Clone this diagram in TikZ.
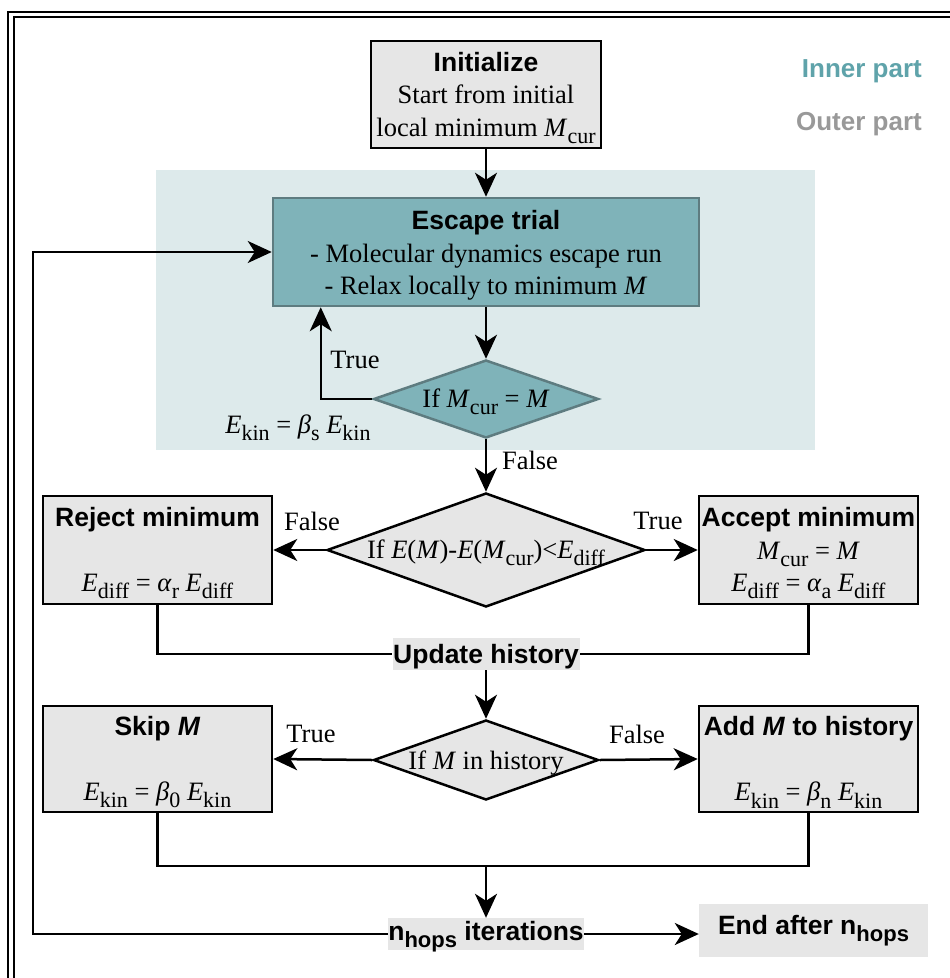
\documentclass[tikz,border=0pt]{standalone}
\usepackage{fontspec}
\setmainfont{Liberation Serif}
\setsansfont{Liberation Sans}
\usetikzlibrary{shapes.geometric,arrows.meta}

\definecolor{boxgray}{HTML}{E6E6E6}
\definecolor{tealfill}{HTML}{7FB3B9}
\definecolor{tealedge}{HTML}{5E7C80}
\definecolor{innerbg}{HTML}{DDEAEB}
\definecolor{innertext}{HTML}{5FA3AA}
\definecolor{outertext}{HTML}{999999}

% lowered, slightly smaller subscript text
\newcommand\sbs[1]{\raisebox{-0.27em}{\fontsize{22}{22}\selectfont #1}}
% bold sans heading
\newcommand\hd[1]{{\sffamily\bfseries #1}}
% taller first line, pushes the text block of a box down a little
\newcommand\firstline{\rule{0pt}{26pt}}
% single line text drawn a bit lower, keeping its box size
\newcommand\low[1]{\raisebox{-3pt}[\height][\depth]{#1}}

\begin{document}
\begin{tikzpicture}[x=1pt,y=-1pt,
  every node/.style={font=\fontsize{26.5}{32.5}\selectfont},
  box/.style={rectangle, draw=black, fill=boxgray, line width=2.5pt,
              inner sep=0pt, align=center},
  tealbox/.style={box, draw=tealedge, fill=tealfill},
  decision/.style={diamond, draw=black, fill=boxgray, line width=2.5pt,
              inner sep=0pt},
  tealdecision/.style={decision, draw=tealedge, fill=tealfill},
  plate/.style={rectangle, fill=boxgray, inner sep=0pt},
  link/.style={line width=2.5pt},
  arr/.style={link, -{Stealth[length=24pt,width=22pt,inset=7pt]}},
  lbl/.style={inner sep=0pt}]

\useasboundingbox (0,0) rectangle (950,978);
\clip (0,0) rectangle (950,978);

% double frame
\draw[line width=2.5pt] (8,1000) -- (8,12) -- (970,12);
\draw[line width=2.5pt] (14,1000) -- (14,17) -- (970,17);

% background of the inner loop
\fill[innerbg] (156,170) rectangle (815,450);

% legend
\node[lbl, anchor=east, text=innertext, font=\fontsize{26}{30}\selectfont\sffamily\bfseries] (leginner) at (922,71) {Inner part};
\node[lbl, anchor=east, text=outertext, font=\fontsize{26}{30}\selectfont\sffamily\bfseries] (legouter) at (922,124) {Outer part};

% boxes
\node[box, minimum width=230pt, minimum height=107pt] (init) at (486,94.5)
  {\firstline\hd{Initialize}\\Start from initial\\local minimum \textit{M}\sbs{cur}};
\node[tealbox, minimum width=426pt, minimum height=108pt] (escape) at (486,252)
  {\firstline\hd{Escape trial}\\- Molecular dynamics escape run\\- Relax locally to minimum \textit{M}};
\node[tealdecision, minimum width=225pt, minimum height=78pt] (d1) at (486,399)
  {\makebox[0pt]{\low{If \textit{M}\sbs{cur} = \textit{M}}}};

\node[decision, minimum width=318pt, minimum height=114pt] (d2) at (486,550)
  {\makebox[0pt]{\low{If \textit{E}(\textit{M})-\textit{E}(\textit{M}\sbs{cur})<\textit{E}\sbs{diff}}}};
\node[box, minimum width=229pt, minimum height=108pt] (reject) at (157.5,550)
  {\firstline\hd{Reject minimum}\\\mbox{}\\\textit{E}\sbs{diff} = \textit{α}\sbs{r} \textit{E}\sbs{diff}};
\node[box, minimum width=219pt, minimum height=108pt] (accept) at (808.5,550)
  {\firstline\hd{Accept minimum}\\\textit{M}\sbs{cur} = \textit{M}\\\textit{E}\sbs{diff} = \textit{α}\sbs{a} \textit{E}\sbs{diff}};

\node[plate, minimum width=187pt, minimum height=32pt] (update) at (486,654)
  {\low{\hd{Update history}}};

\node[decision, minimum width=225pt, minimum height=80pt] (d3) at (486,760)
  {\makebox[0pt]{\low{If \textit{M} in history}}};
\node[box, minimum width=229pt, minimum height=106pt] (skip) at (157.5,759)
  {\firstline\hd{Skip \textit{M}}\\\mbox{}\\\textit{E}\sbs{kin} = \textit{β}\sbs{0} \textit{E}\sbs{kin}};
\node[box, minimum width=219pt, minimum height=106pt] (addm) at (808.5,759)
  {\firstline\hd{Add \textit{M} to history}\\\mbox{}\\\textit{E}\sbs{kin} = \textit{β}\sbs{n} \textit{E}\sbs{kin}};

\node[plate, minimum width=187pt, minimum height=32pt] (iter) at (486,934)
  {\low{\hd{n\sbs{hops} iterations}}};
\node[plate, minimum width=229pt, minimum height=53pt] (endn) at (813.5,930.5)
  {\hd{End after n\sbs{hops}}};

% junction points and the return path
\coordinate (join) at (486,866);
\coordinate (loopx) at (33,934);

% connectors
\draw[arr] (init) -- (escape);
\draw[arr] (escape) -- (d1);
\draw[arr] (d1.west) -| ([xshift=49pt]escape.south west);
\draw[arr] (d1) -- (d2);
\draw[arr] (d2.west) -- (reject.east);
\draw[arr] (d2.east) -- (accept.west);
\draw[link] (reject.south) |- (update.west);
\draw[link] (accept.south) |- (update.east);
\draw[arr] (update) -- (d3);
\draw[arr] (d3.west) -- (skip.east);
\draw[arr] (d3.east) -- (addm.west);
\draw[link] (skip.south) |- (join) -| (addm.south);
\draw[arr] (join) -- (iter);
\draw[arr] (iter.east) -- (iter.east -| endn.west);
\draw[arr] (iter.west) -- (loopx) |- (escape.west);

% branch labels
\node[lbl] (t1) at (355,360) {True};
\node[lbl] (k1) at (298,428) {\textit{E}\sbs{kin} = \textit{β}\sbs{s} \textit{E}\sbs{kin}};
\node[lbl] (f1) at (530,460) {False};
\node[lbl] (f2) at (312,521) {False};
\node[lbl] (t2) at (658,521) {True};
\node[lbl] (t3) at (311,734) {True};
\node[lbl] (f3) at (637,734) {False};

\end{tikzpicture}
\end{document}
